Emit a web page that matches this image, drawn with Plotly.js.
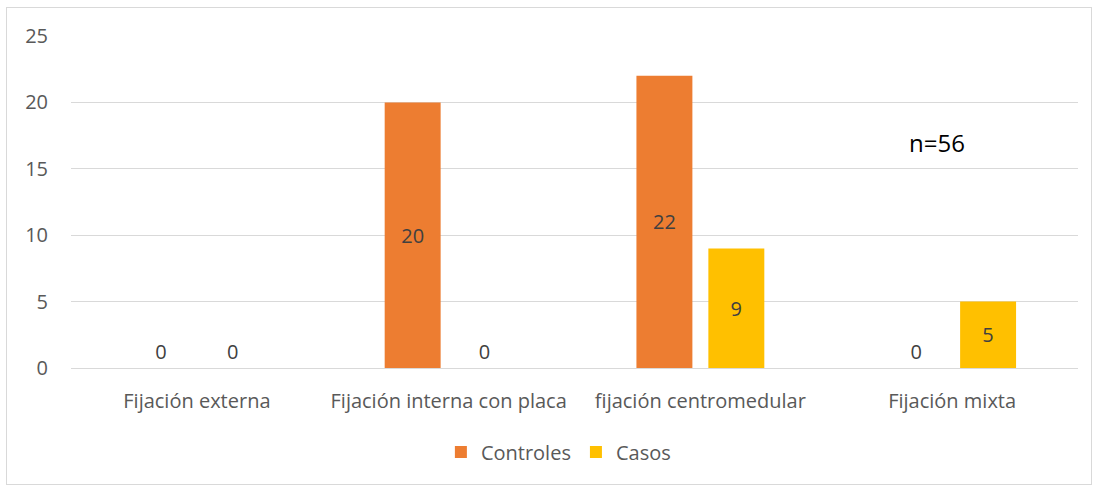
<!DOCTYPE html>
<html><head><meta charset="utf-8">
<script src="https://cdn.plot.ly/plotly-3.0.1.min.js"></script>
<style>
body{margin:0;padding:0;background:#fff;}
#wrap{position:relative;width:1094px;height:487px;}
#frame{position:absolute;left:6px;top:7px;width:1086px;height:478px;border:1px solid #d9d9d9;box-sizing:border-box;pointer-events:none;}
#chart{position:absolute;left:0;top:0;width:1094px;height:487px;}
</style></head>
<body>
<div id="wrap"><div id="chart"></div><div id="frame"></div></div>
<script>
const categories = ["Fijación externa", "Fijación interna con placa", "fijación centromedular", "Fijación mixta"];
const controles = [0, 20, 22, 0];
const casos = [0, 0, 9, 5];
const seriesNames = ["Controles", "Casos"];
const yTicks = [0, 5, 10, 15, 20, 25];
const noteText = "n=56";

const font = "Open Sans, Noto Sans, sans-serif";
function pos(vals){ return vals.map(v => v === 0 ? "outside" : "inside"); }

const traces = [
  {type:"bar", name:seriesNames[0], x:categories, y:controles, marker:{color:"#ED7D31"},
   text:controles.map(String), textposition:pos(controles), insidetextanchor:"middle",
   textfont:{family:font,size:20,color:"#404040"}, cliponaxis:false, hoverinfo:"skip"},
  {type:"bar", name:seriesNames[1], x:categories, y:casos, marker:{color:"#FFC000"},
   text:casos.map(String), textposition:pos(casos), insidetextanchor:"middle",
   textfont:{family:font,size:20,color:"#404040"}, cliponaxis:false, hoverinfo:"skip"}
];

const layout = {
  width:1094, height:487,
  margin:{l:71, r:16, t:36, b:119},
  paper_bgcolor:"#ffffff", plot_bgcolor:"#ffffff",
  barmode:"group", bargap:0.4286, bargroupgap:0.222,
  font:{family:font, color:"#595959", size:20},
  xaxis:{type:"category", showgrid:false, showline:false, zeroline:false, ticks:"",
         tickfont:{family:font,size:20,color:"#595959"}, ticklabelstandoff:19},
  yaxis:{range:[0,25], tickvals:yTicks, showgrid:true, gridcolor:"#d9d9d9", gridwidth:1,
         zeroline:true, zerolinecolor:"#d9d9d9", zerolinewidth:1, showline:false, ticks:"",
         tickfont:{family:font,size:20,color:"#595959"}, ticklabelstandoff:22},
  showlegend:true,
  legend:{orientation:"h", x:0.484, xanchor:"center", y:-0.253, yanchor:"middle",
          font:{family:font,size:20,color:"#595959"}, itemwidth:30, traceorder:"normal"},
  annotations:[{text:noteText, xref:"paper", yref:"paper", x:0.86, y:0.679, xanchor:"center", yanchor:"middle",
                showarrow:false, font:{family:font,size:24,color:"#000000"}}]
};

Plotly.newPlot("chart", traces, layout, {displayModeBar:false, staticPlot:true});
</script>
</body></html>
